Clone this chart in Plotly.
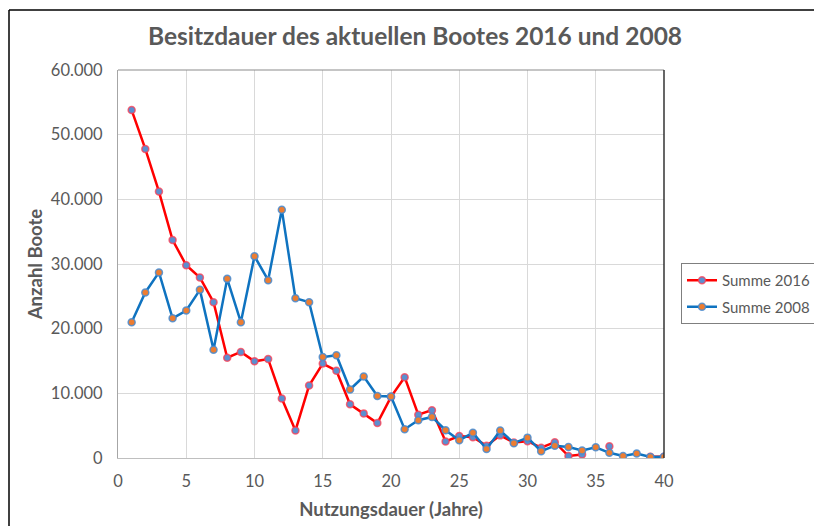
import plotly.graph_objects as go

years = list(range(1, 41))
summe_2016 = [53800, 47800, 41200, 33700, 29800, 27900, 24100, 15500, 16400, 14950,
              15300, 9200, 4250, 11200, 14600, 13500, 8300, 6900, 5400, 9450,
              12500, 6700, 7400, 2550, 3400, 3200, 1900, 3500, 2400, 2600,
              1600, 2450, 300, 550, None, 1800, None, None, 200, 200]
summe_2008 = [21000, 25600, 28700, 21600, 22800, 26000, 16750, 27700, 21000, 31200,
              27500, 38400, 24700, 24100, 15600, 15900, 10600, 12600, 9600, 9500,
              4450, 5850, 6350, 4300, 2750, 3900, 1400, 4250, 2300, 3150,
              1050, 1900, 1700, 1150, 1650, 800, 300, 700, 150, 200]
x_ticks = [0, 5, 10, 15, 20, 25, 30, 35, 40]
y_ticks = [0, 10000, 20000, 30000, 40000, 50000, 60000]

W, H = 814, 526
L, R, T, B = 118, 150, 70, 68
PW, PH = W - L - R, H - T - B

def px(xp):
    return (xp - L) / PW

def py(yp):
    return (H - B - yp) / PH

FONT = "Lato, 'Open Sans', sans-serif"
GREY = "#595959"

fig = go.Figure()
fig.add_trace(go.Scatter(
    x=years, y=summe_2016, name="Summe 2016", mode="lines+markers", legendgroup="a",
    line=dict(color="#ff0000", width=2.5),
    marker=dict(symbol="circle", size=7, color="#5b8fd0",
                line=dict(color="rgba(255,60,80,0.75)", width=1.5)),
    connectgaps=False,
))
fig.add_trace(go.Scatter(
    x=years, y=summe_2008, name="Summe 2008", mode="lines+markers", legendgroup="b",
    line=dict(color="#0f73c0", width=2.5),
    marker=dict(symbol="circle", size=7, color="#ed7d31",
                line=dict(color="rgba(70,140,210,0.85)", width=1.5)),
))

shapes = [
    # outer chart border (left and top)
    dict(type="line", xref="paper", yref="paper", x0=px(9), y0=py(H + 5), x1=px(9), y1=py(10),
         line=dict(color="#000000", width=1.5)),
    dict(type="line", xref="paper", yref="paper", x0=px(9), y0=py(10), x1=px(W + 5), y1=py(10),
         line=dict(color="#000000", width=1.5)),
    # plot area top and right border
    dict(type="line", xref="paper", yref="paper", x0=0, y0=1, x1=1, y1=1,
         line=dict(color="#8c8c8c", width=1.2)),
    dict(type="line", xref="paper", yref="paper", x0=1, y0=0, x1=1, y1=1,
         line=dict(color="#262626", width=1.4)),
]

fig.update_layout(
    width=W, height=H,
    margin=dict(l=L, r=R, t=T, b=B, autoexpand=False),
    paper_bgcolor="white", plot_bgcolor="white",
    separators=",.",
    font=dict(family=FONT, color=GREY, size=16),
    title=dict(text="<b>Besitzdauer des aktuellen Bootes 2016 und 2008</b>",
               x=415 / W, xanchor="center", y=1 - 36 / H, yanchor="middle",
               yref="container", font=dict(size=24.5, color=GREY, family=FONT)),
    xaxis=dict(range=[0, 40], tickvals=x_ticks, showgrid=True, gridcolor="#d9d9d9", gridwidth=1,
               showline=True, linecolor="#bfbfbf", linewidth=1.2, zeroline=False,
               ticks="", ticklabelstandoff=8, tickfont=dict(size=16.5, color=GREY),
               title=dict(text="<b>Nutzungsdauer (Jahre)</b>", standoff=13,
                          font=dict(size=18.5, color=GREY))),
    yaxis=dict(range=[0, 60000], tickvals=y_ticks, tickformat=",d", showgrid=True,
               gridcolor="#d9d9d9", gridwidth=1, showline=True, linecolor="#a6a6a6",
               linewidth=1.2, zeroline=False, ticks="", ticklabelstandoff=11,
               tickfont=dict(size=16.5, color=GREY),
               title=dict(text="<b>Anzahl Boote</b>", standoff=3,
                          font=dict(size=18.5, color=GREY))),
    legend=dict(x=px(681), y=py(263), xanchor="left", yanchor="top",
                bordercolor="#7f7f7f", borderwidth=1, bgcolor="white",
                font=dict(size=15, color=GREY), itemwidth=30, tracegroupgap=4),
    shapes=shapes,
    showlegend=True,
)

fig.write_html("out.html", config={"displayModeBar": False},
               post_script="document.body.style.margin='0';document.body.style.padding='0';")
